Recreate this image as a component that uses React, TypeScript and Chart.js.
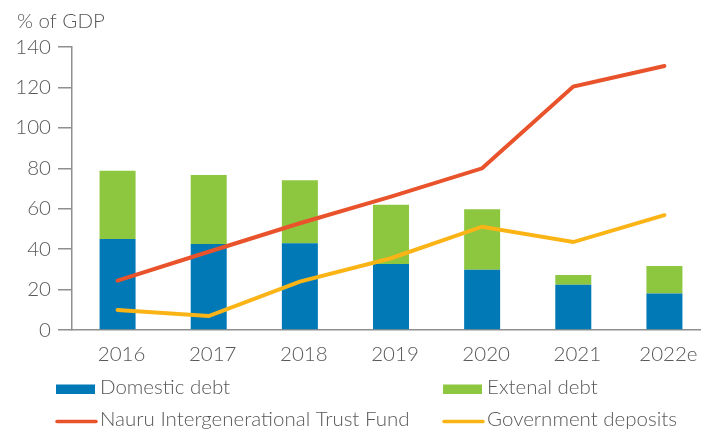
import React, { useEffect, useRef } from "react";
import { Chart, registerables } from "chart.js";

Chart.register(...registerables);

const categories = ["2016", "2017", "2018", "2019", "2020", "2021", "2022e"];
const domesticDebt = [45, 42.6, 42.9, 32.7, 29.8, 22.4, 18];
const externalDebt = [33.8, 34.1, 31.2, 29.2, 29.9, 4.8, 13.7];
const trustFund = [24.4, 38.7, 52.8, 66, 80, 120.4, 130.6];
const govDeposits = [9.9, 6.9, 23.9, 35.5, 51.1, 43.5, 56.8];
const yTicks = [0, 20, 40, 60, 80, 100, 120, 140];
const unitLabel = "% of GDP";

const FONT = "Lato, 'Noto Sans', sans-serif";
const WEIGHT = 300;
const SIZE = 20.5;
const TEXT = "#585858";
const AXIS = "#8f8f8f";

const overlay = {
  id: "overlay",
  afterDraw(chart: any) {
    const ctx = chart.ctx;
    const ds = chart.data.datasets;
    ctx.save();
    ctx.font = `${WEIGHT} ${SIZE}px ${FONT}`;
    ctx.fillStyle = TEXT;
    ctx.textBaseline = "alphabetic";
    ctx.textAlign = "left";
    ctx.fillText(unitLabel, 17, 28);
    const items = [
      { d: ds[0], x: 56, y: 394, box: true },
      { d: ds[1], x: 443, y: 394, box: true },
      { d: ds[2], x: 56, y: 426, box: false },
      { d: ds[3], x: 443, y: 426, box: false },
    ];
    items.forEach((it) => {
      if (it.box) {
        ctx.fillStyle = it.d.backgroundColor;
        ctx.fillRect(it.x, it.y - 9.5, 39, 9.5);
      } else {
        ctx.strokeStyle = it.d.borderColor;
        ctx.lineWidth = 3.5;
        ctx.lineCap = "round";
        ctx.beginPath();
        ctx.moveTo(it.x + 1, it.y - 4.5);
        ctx.lineTo(it.x + 40, it.y - 4.5);
        ctx.stroke();
      }
      ctx.fillStyle = TEXT;
      ctx.fillText(it.d.label, it.x + 44, it.y);
    });
    ctx.restore();
  },
};

export default function App() {
  const ref = useRef<HTMLCanvasElement>(null);
  useEffect(() => {
    if (!ref.current) return;
    const chart = new Chart(ref.current, {
      type: "bar",
      data: {
        labels: categories,
        datasets: [
          {
            type: "bar",
            label: "Domestic debt",
            data: domesticDebt,
            backgroundColor: "#0079b6",
            stack: "debt",
            order: 2,
            barPercentage: 0.395,
            categoryPercentage: 1,
          },
          {
            type: "bar",
            label: "Extenal debt",
            data: externalDebt,
            backgroundColor: "#8dc63f",
            stack: "debt",
            order: 2,
            barPercentage: 0.395,
            categoryPercentage: 1,
          },
          {
            type: "line",
            label: "Nauru Intergenerational Trust Fund",
            data: trustFund,
            borderColor: "#e9532b",
            backgroundColor: "#e9532b",
            borderWidth: 4,
            pointRadius: 0,
            borderCapStyle: "round",
            borderJoinStyle: "miter",
            stack: "ntf",
            order: 1,
          },
          {
            type: "line",
            label: "Government deposits",
            data: govDeposits,
            borderColor: "#fbb416",
            backgroundColor: "#fbb416",
            borderWidth: 4,
            pointRadius: 0,
            borderCapStyle: "round",
            borderJoinStyle: "miter",
            stack: "gd",
            order: 0,
          },
        ] as any,
      },
      options: {
        animation: false,
        responsive: false,
        events: [],
        layout: { padding: { left: 0, top: 47, right: 2, bottom: 59 } },
        plugins: { legend: { display: false }, tooltip: { enabled: false } },
        scales: {
          x: {
            stacked: true,
            offset: true,
            grid: { display: false },
            border: { display: true, color: AXIS, width: 1.5 },
            ticks: {
              color: TEXT,
              font: { family: FONT, size: SIZE, weight: WEIGHT as any },
              padding: 4,
              labelOffset: 4,
              maxRotation: 0,
              autoSkip: false,
            },
            afterFit: (s: any) => {
              s.height = 40;
            },
          },
          y: {
            stacked: true,
            min: 0,
            max: 140,
            afterBuildTicks: (s: any) => {
              s.ticks = yTicks.map((v) => ({ value: v }));
            },
            grid: {
              drawOnChartArea: false,
              drawTicks: true,
              tickLength: 14,
              color: AXIS,
              lineWidth: 1.5,
            },
            border: { display: true, color: AXIS, width: 1.5 },
            ticks: {
              color: TEXT,
              font: { family: FONT, size: SIZE, weight: WEIGHT as any },
              padding: 7,
            },
            afterFit: (s: any) => {
              s.width = 72;
            },
          },
        },
      },
      plugins: [overlay],
    });
    return () => chart.destroy();
  }, []);
  return (
    <div
      style={{
        position: "fixed",
        left: 0,
        top: 0,
        width: 701,
        height: 429,
        overflow: "hidden",
        background: "#fff",
      }}
    >
      <canvas
        ref={ref}
        width={712}
        height={429}
        style={{ position: "absolute", left: 0, top: 0, width: 712, height: 429 }}
      />
    </div>
  );
}
